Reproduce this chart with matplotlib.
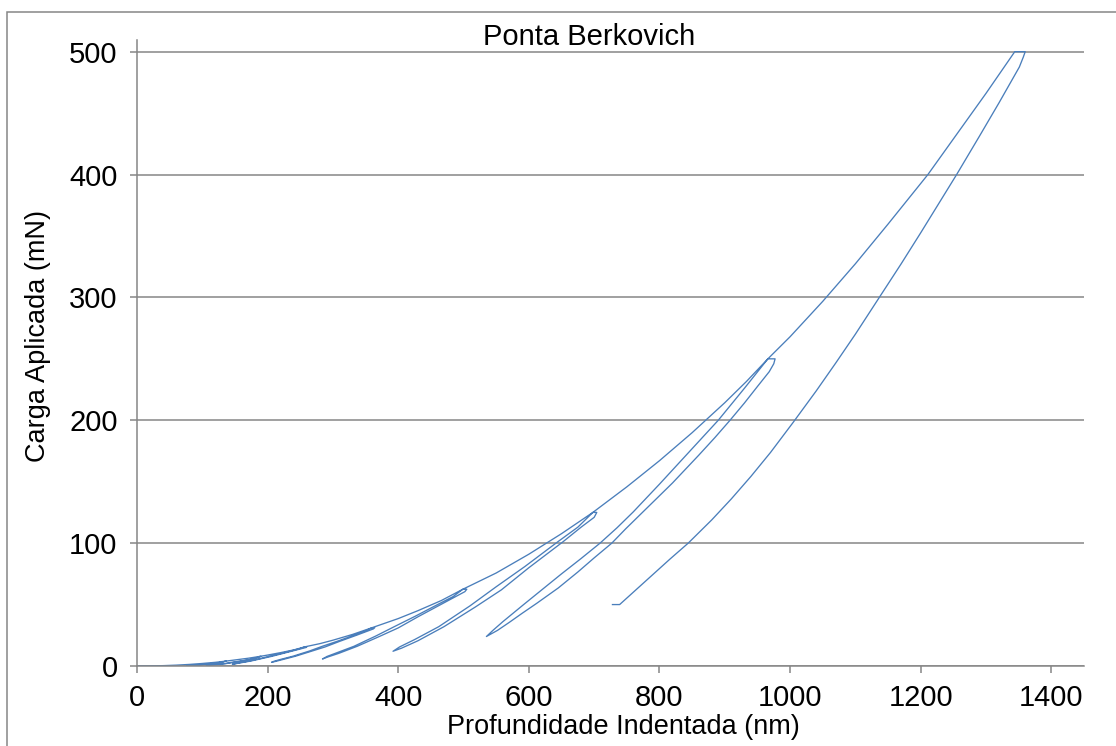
import matplotlib
matplotlib.use('Agg')
import matplotlib.pyplot as plt
from matplotlib.patches import Rectangle

plt.rcParams['font.family'] = ['Liberation Sans', 'DejaVu Sans']

# loading branch: depth (nm) and load (mN)
load_h = [0, 20, 40, 60, 80, 100, 120, 135, 150, 170, 188, 200, 220, 240, 257,
          280, 300, 330, 360, 400, 430, 466, 499, 550, 600, 650, 698, 750, 800,
          850, 900, 933, 966, 1000, 1050, 1100, 1150, 1211, 1250, 1300, 1344]
load_p = [0, 0.07, 0.3, 0.7, 1.29, 2.07, 3.0, 3.9, 4.9, 6.3, 7.8, 8.9, 10.9,
          13.1, 15.6, 18.2, 21.0, 25.7, 31.2, 38.6, 45.0, 53.3, 62.5, 75.7, 91.0,
          107.7, 125, 145.8, 167.1, 189.9, 214.3, 231.5, 250, 268, 296.8, 327.4,
          359.7, 400, 429, 466.1, 500]

# unloading (after the hold at peak) and reloading branches, one pair per cycle
unload_4 = [(137, 3.9), (133, 3.5), (124, 2.5), (114, 1.9), (106, 1.5), (98, 1.0),
            (89, 0.65), (81, 0.45), (76, 0.35)]
reload_4 = [(76, 0.35), (80, 0.45), (87, 0.68), (97, 1.0), (104, 1.5), (112, 1.9),
            (122, 2.5), (130, 3.1), (135, 3.9)]

unload_8 = [(190, 7.8), (185, 7.0), (172, 5.0), (159, 3.9), (148, 3.0), (137, 2.0),
            (124, 1.3), (113, 0.9), (106, 0.7)]
reload_8 = [(106, 0.7), (112, 0.95), (122, 1.35), (135, 2.0), (145, 3.0), (157, 3.9),
            (170, 5.0), (181, 6.3), (188, 7.8)]

unload_16 = [(260, 15.6), (259, 15.1), (252, 14.1), (241, 12.6), (222, 10.0),
             (206, 7.8), (191, 6.0), (174, 4.0), (159, 2.6), (152, 1.9), (146, 1.4)]
reload_16 = [(146, 1.4), (150, 1.9), (157, 2.7), (171, 4.0), (189, 6.1), (203, 8.0),
             (220, 10.1), (238, 12.6), (249, 14.1), (257, 15.6)]

unload_31 = [(364, 31.2), (362, 30.2), (352, 28.2), (337, 25.2), (310, 20.0),
             (288, 15.5), (267, 12.0), (243, 8.0), (222, 5.1), (212, 3.7), (206, 3.0)]
reload_31 = [(206, 3.0), (210, 3.9), (220, 5.4), (239, 8.0), (264, 12.2), (284, 16.1),
             (307, 20.2), (333, 25.2), (348, 28.2), (360, 31.2)]

unload_62 = [(505, 62.5), (502, 60.5), (488, 56.5), (467, 50.5), (430, 40.0),
             (400, 31.0), (371, 24.0), (337, 16.0), (309, 10.3), (292, 7.3), (284, 5.7)]
reload_62 = [(284, 5.7), (291, 7.8), (306, 10.8), (332, 16.0), (366, 24.5),
             (395, 32.3), (426, 40.5), (462, 50.5), (484, 56.5), (499, 62.5)]

unload_125 = [(704, 125), (700, 121), (680, 113), (652, 101), (600, 80), (558, 62),
              (518, 48), (470, 32), (430, 20.5), (405, 14.5), (392, 12)]
reload_125 = [(392, 12), (402, 15.5), (425, 21.5), (462, 32), (510, 49), (550, 64.5),
              (594, 81), (644, 101), (675, 113), (698, 125)]

unload_250 = [(977, 250), (975, 246), (968, 239.5), (950, 227.5), (930, 214),
              (908, 200), (885, 186), (860, 171.5), (820, 149), (795, 136),
              (770, 123), (748, 111.5), (727, 100), (700, 88), (675, 76.5),
              (645, 63.5), (612, 51), (590, 43), (570, 35.5), (552, 29), (542, 26),
              (535, 24)]
reload_250 = [(535, 24), (545, 29), (560, 36), (592, 50), (650, 75), (680, 87.5),
              (709, 100), (735, 112.5), (760, 125.5), (800, 148), (845, 174),
              (890, 200), (930, 226), (966, 250)]

# final unload ends with a short hold at 10 % of the peak load
unload_500 = [(1360, 500), (1357, 495.5), (1351, 487.5), (1320, 458.5), (1290, 431.3),
              (1255, 400), (1230, 378.4), (1200, 352.6), (1170, 327.3), (1136, 299.5),
              (1100, 270.1), (1070, 246.7), (1040, 223.9), (1005, 198.5), (970, 173.8),
              (940, 154.3), (910, 136), (880, 118.9), (844, 100), (816, 87),
              (790, 74.5), (764, 62), (739, 50), (728, 50)]

peak_h = [135, 188, 257, 360, 499, 698, 966, 1344]
unloads = [unload_4, unload_8, unload_16, unload_31, unload_62, unload_125,
           unload_250, unload_500]
reloads = [reload_4, reload_8, reload_16, reload_31, reload_62, reload_125,
           reload_250, None]

# stitch the test into one continuous trace
xs, ys = [], []
prev = -1
for hp, un, re in zip(peak_h, unloads, reloads):
    for h, p in zip(load_h, load_p):
        if prev < h <= hp:
            xs.append(h)
            ys.append(p)
    for h, p in un:
        xs.append(h)
        ys.append(p)
    if re is not None:
        for h, p in re:
            xs.append(h)
            ys.append(p)
    prev = hp

W, H = 1116, 746
fig = plt.figure(figsize=(W / 100, H / 100), dpi=100)
ax = fig.add_axes([137 / W, 1 - 666 / H, (1084 - 137) / W, (666 - 40) / H])

grey = '#868686'
ax.plot(xs, ys, color='#4A7EBB', lw=0.95, solid_joinstyle='round')

ax.set_xlim(0, 1450)
ax.set_ylim(0, 509.5)
ax.set_xticks(range(0, 1401, 200))
ax.set_yticks(range(0, 501, 100))
ax.yaxis.grid(True, color=grey, lw=1.1)
ax.set_axisbelow(True)
for side in ['top', 'right']:
    ax.spines[side].set_visible(False)
for side in ['left', 'bottom']:
    ax.spines[side].set_color(grey)
    ax.spines[side].set_linewidth(1.1)
ax.tick_params(axis='both', direction='out', length=5, width=1.1, color=grey,
               labelsize=21, labelcolor='black')
ax.tick_params(axis='y', pad=9)
ax.tick_params(axis='x', pad=8)

fig.text(589 / W, 1 - 37 / H, 'Ponta Berkovich', ha='center', va='center', fontsize=21)
fig.text(623 / W, 1 - 727 / H, 'Profundidade Indentada (nm)', ha='center', va='center',
         fontsize=19.5)
fig.text(38 / W, 1 - 336 / H, 'Carga Aplicada (mN)', ha='center', va='center',
         rotation=90, fontsize=19.5)

# chart area border
fig.patches.append(Rectangle((7 / W, -0.1), 1.2, 1.1 - 12 / H, transform=fig.transFigure,
                             fill=False, edgecolor=grey, lw=1.1))

fig.savefig('out.png', dpi=100)
